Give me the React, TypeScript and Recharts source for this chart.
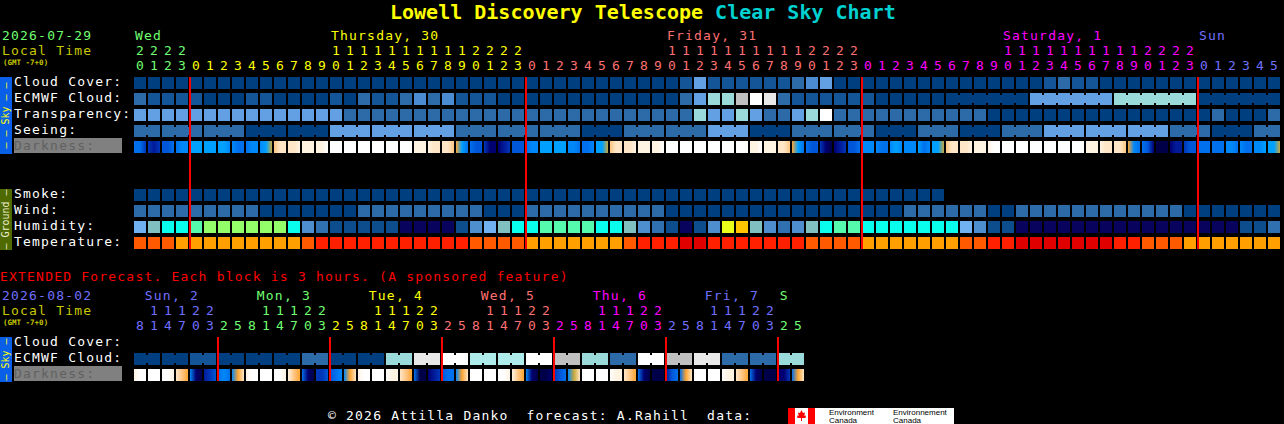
import React from 'react';
import { Scatter, ScatterChart, XAxis, YAxis } from 'recharts';

const MONO = '"DejaVu Sans Mono", monospace';
const TEXT_SIZE = 13;
const TEXT_SPACING = 1.2;

// hours shown above each column
const hours = [
  20, 21, 22, 23,
  0, 1, 2, 3, 4, 5, 6, 7, 8, 9, 10, 11, 12, 13, 14, 15, 16, 17, 18, 19, 20, 21, 22, 23,
  0, 1, 2, 3, 4, 5, 6, 7, 8, 9, 10, 11, 12, 13, 14, 15, 16, 17, 18, 19, 20, 21, 22, 23,
  0, 1, 2, 3, 4, 5, 6, 7, 8, 9, 10, 11, 12, 13, 14, 15, 16, 17, 18, 19, 20, 21, 22, 23,
  0, 1, 2, 3, 4, 5,
];
const extHours = [
  8, 11, 14, 17, 20, 23,
  2, 5, 8, 11, 14, 17, 20, 23,
  2, 5, 8, 11, 14, 17, 20, 23,
  2, 5, 8, 11, 14, 17, 20, 23,
  2, 5, 8, 11, 14, 17, 20, 23,
  2, 5, 8, 11, 14, 17, 20, 23,
  2, 5,
];

const dayNames = ['Wed', 'Thursday, 30', 'Friday, 31', 'Saturday, 1', 'Sun'];
const dayLabelCols = [0, 14, 38, 62, 76];
const dayStartCols = [0, 4, 28, 52, 76];
const dayColors = ['#70ff70', '#ffff00', '#ff7070', '#ff00ff', '#7070ff'];
const midnights = [4, 28, 52, 76];

const extDayNames = ['Sun, 2', 'Mon, 3', 'Tue, 4', 'Wed, 5', 'Thu, 6', 'Fri, 7', 'S'];
const extDayLabelCols = [0.7, 8.7, 16.7, 24.7, 32.7, 40.7, 46.05];
const extDayStartCols = [0, 6, 14, 22, 30, 38, 46];
const extDayColors = ['#7070ff', '#70ff70', '#ffff00', '#ff7070', '#ff00ff', '#7070ff', '#70ff70'];
const extMidnights = [6, 14, 22, 30, 38, 46];

// cloud style levels, tenths of sky
const cloudCover = [
  0, 0, 0, 0, 0, 0, 0, 0, 0, 0,
  0, 0, 0, 0, 0, 0, 0, 0, 0, 0,
  0, 0, 0, 0, 0, 0, 0, 0, 0, 0,
  0, 0, 0, 0, 0, 0, 0, 0, 0, 1,
  4, 1, 1, 1, 1, 1, 1, 2, 3, 4,
  0, 0, 0, 0, 0, 0, 0, 0, 0, 0,
  0, 0, 0, 0, 0, 1, 2, 1, 1, 0,
  0, 0, 0, 0, 0, 0, 0, 0, 0, 0, 0, 0,
];
const ecmwfCloud = [
  2, 1, 1, 1, 1, 0, 0, 0, 1, 1,
  0, 0, 0, 0, 1, 0, 2, 1, 1, 2,
  3, 2, 3, 1, 1, 1, 0, 0, 0, 0,
  0, 0, 0, 0, 0, 0, 0, 0, 0, 2,
  4, 6, 6, 8, 10, 9, 2, 1, 1, 1,
  1, 1, 1, 0, 0, 0, 0, 0, 0, 0,
  0, 0, 0, 0, 4, 4, 4, 4, 4, 4,
  6, 6, 6, 6, 6, 6, 0, 0, 0, 0, 0, 0,
];
const transparency = [
  4, 4, 4, 4, 4, 4, 4, 4, 4, 4,
  4, 4, 4, 4, 4, 2, 2, 2, 2, 2,
  2, 2, 2, 2, 2, 2, 2, 2, 2, 2,
  2, 2, 2, 2, 2, 2, 2, 2, 2, 2,
  6, 4, 4, 6, 4, 2, 2, 4, 6, 10,
  2, 2, 2, 2, 2, 2, 2, 2, 2, 2,
  2, 0, 0, 0, 0, 0, 0, 0, 0, 0,
  0, 0, 0, 0, 0, 0, 0, 2, 0, 0, 0, 2,
];
const seeing = [
  2, 2, 2, 2, 2, 2, 2, 2, 0, 0,
  0, 0, 0, 0, 4, 4, 4, 4, 4, 4,
  4, 4, 4, 2, 2, 2, 2, 2, 2, 2,
  2, 2, 0, 0, 0, 2, 2, 2, 2, 2,
  2, 4, 4, 4, 0, 0, 0, 2, 2, 2,
  2, 2, 2, 0, 0, 0, 2, 2, 2, 0,
  0, 0, 2, 2, 2, 4, 4, 4, 4, 4,
  4, 4, 4, 4, 2, 2, 2, 0, 0, 0, 2, 2,
];
const smoke = [
  0, 0, 0, 0, 0, 0, 0, 0, 0, 0,
  0, 0, 0, 0, 0, 0, 0, 0, 0, 0,
  0, 0, 0, 0, 0, 0, 0, 0, 0, 0,
  0, 0, 0, 0, 0, 0, 0, 0, 0, 0,
  0, 0, 0, 0, 0, 0, 0, 0, 0, 0,
  0, 0, 0, 0, 0, 0, 0, 0,
];
const wind = [
  2, 2, 2, 2, 2, 2, 2, 2, 2, 0,
  0, 0, 0, 0, 0, 0, 2, 2, 2, 2,
  2, 2, 2, 2, 2, 0, 0, 0, 2, 2,
  2, 2, 2, 2, 2, 2, 2, 2, 0, 0,
  0, 0, 0, 0, 0, 0, 0, 0, 0, 0,
  0, 0, 0, 0, 0, 2, 2, 2, 2, 2,
  2, 0, 0, 2, 2, 2, 2, 2, 2, 2,
  2, 2, 2, 2, 2, 0, 0, 0, 0, 0, 0, 0,
];
const humidity = [
  42, 47, 52, 52, 57, 62, 62, 62, 62, 62,
  62, 52, 37, 32, 27, 27, 27, 27, 27, 20,
  20, 20, 20, 27, 37, 42, 47, 52, 52, 57,
  57, 57, 57, 52, 52, 47, 37, 32, 27, 20,
  27, 37, 67, 72, 47, 37, 32, 37, 47, 52,
  57, 57, 52, 52, 52, 52, 52, 52, 52, 42,
  37, 27, 27, 20, 20, 20, 20, 20, 20, 20,
  20, 20, 20, 20, 20, 20, 20, 20, 20, 27, 27, 32,
];
const temperature = [
  17, 17, 17, 12, 12, 12, 12, 12, 12, 12,
  12, 12, 17, 22, 22, 22, 22, 22, 22, 22,
  22, 22, 22, 22, 17, 17, 17, 17, 12, 12,
  12, 12, 12, 12, 12, 17, 22, 22, 22, 28,
  28, 22, 22, 22, 22, 22, 22, 22, 17, 17,
  17, 17, 12, 12, 12, 12, 12, 12, 12, 17,
  17, 22, 22, 28, 28, 28, 28, 28, 28, 28,
  22, 22, 17, 17, 17, 12, 12, 12, 12, 12, 12, 12,
];
// darkness, three readings across each block (0 daylight .. 13 deep night)
const darkness = [
  [8, 8, 10], [10, 11, 10], [9, 9, 8], [8, 7, 7], [6, 6, 6], [6, 6, 6], [6, 6, 7], [7, 8, 8], [8, 7, 7], [7, 6, 5],
  [3, 2, 2], [2, 2, 1], [1, 1, 1], [1, 1, 0], [0, 0, 0], [0, 0, 0], [0, 0, 0], [0, 0, 0], [0, 0, 0], [0, 0, 0],
  [1, 1, 1], [1, 2, 2], [2, 2, 3], [4, 6, 8], [8, 9, 9], [10, 12, 12], [12, 11, 10], [9, 9, 9], [8, 7, 7], [6, 6, 6],
  [6, 6, 6], [7, 7, 8], [8, 8, 7], [6, 6, 5], [3, 2, 2], [2, 2, 1], [1, 1, 1], [1, 1, 0], [0, 0, 0], [0, 0, 0],
  [0, 0, 0], [0, 0, 0], [0, 0, 0], [0, 0, 0], [1, 1, 0], [1, 1, 1], [2, 2, 3], [4, 6, 8], [8, 9, 9], [10, 12, 13],
  [12, 11, 10], [9, 9, 8], [7, 7, 7], [7, 8, 8], [7, 6, 7], [7, 7, 7], [6, 8, 7], [6, 6, 5], [3, 2, 2], [2, 2, 1],
  [1, 1, 1], [1, 0, 0], [0, 0, 0], [0, 0, 0], [0, 0, 0], [0, 0, 0], [0, 0, 0], [0, 0, 0], [1, 1, 1], [1, 2, 2],
  [2, 2, 3], [4, 7, 8], [8, 9, 12], [13, 13, 13], [12, 11, 11], [10, 9, 9], [8, 8, 8], [8, 8, 8], [7, 7, 8], [7, 8, 8],
  [7, 7, 6], [6, 6, 5],
];

const extEcmwf = [
  0, 0, 0, 0, 1, 1, 0, 0, 0, 0,
  0, 0, 2, 2, 0, 0, 0, 0, 6, 6,
  9, 9, 10, 10, 7, 7, 7, 7, 10, 10,
  8, 8, 6, 6, 2, 2, 10, 10, 8, 8,
  9, 9, 2, 2, 2, 2, 6, 6,
];
const extDarkness = [
  [1, 0, 0], [0, 0, 0], [0, 0, 1], [2, 3, 4], [7, 12, 13], [11, 10, 9], [8, 7, 8], [7, 4, 2],
  [1, 0, 0], [0, 0, 0], [0, 0, 1], [1, 3, 4], [8, 12, 13], [10, 10, 9], [9, 8, 7], [7, 4, 2],
  [1, 0, 0], [0, 0, 0], [0, 1, 1], [2, 3, 4], [8, 13, 13], [12, 11, 10], [9, 8, 8], [7, 4, 2],
  [0, 0, 0], [0, 0, 0], [0, 0, 1], [1, 3, 4], [7, 12, 13], [13, 13, 12], [10, 9, 8], [7, 5, 2],
  [0, 0, 0], [0, 0, 0], [0, 1, 1], [2, 3, 4], [8, 12, 13], [13, 13, 13], [11, 9, 8], [8, 4, 2],
  [0, 0, 0], [0, 0, 0], [0, 1, 1], [2, 3, 4], [8, 12, 13], [13, 13, 13], [12, 12, 10], [8, 4, 2],
];

const rowLabels: Record<number, string> = {
  0: 'Cloud Cover:', 1: 'ECMWF Cloud:', 2: 'Transparency:', 3: 'Seeing:', 4: 'Darkness:',
  7: 'Smoke:', 8: 'Wind:', 9: 'Humidity:', 10: 'Temperature:',
};
const extRowLabels: Record<number, string> = { 0: 'Cloud Cover:', 1: 'ECMWF Cloud:', 2: 'Darkness:' };

const cloudColors = ['#003f7f', '#135596', '#2c6aa8', '#4a8bd1', '#63a0e3', '#7ebbef', '#9adada', '#aeecec', '#c0c0c0', '#e8e8e8', '#ffffff'];
const darkColors = ['#ffffff', '#fff3e2', '#ffe6c6', '#ffc684', '#ffa530', '#c8a83c', '#00a0ff', '#0088f8', '#0070ec', '#0056d8', '#0036b8', '#001a98', '#000070', '#000048'];

const humidityColor = (v: number) => {
  if (v < 25) return '#08035d';
  if (v < 30) return '#0d4d8d';
  if (v < 35) return '#3070b0';
  if (v < 40) return '#4e8ece';
  if (v < 45) return '#71b1f1';
  if (v < 50) return '#80c0c0';
  if (v < 55) return '#09feed';
  if (v < 60) return '#55faad';
  if (v < 65) return '#94fe6a';
  if (v < 70) return '#eaff1a';
  return '#ffc500';
};
const temperatureColor = (v: number) => {
  if (v < 15) return '#ffa000';
  if (v < 20) return '#ff5a00';
  if (v < 25) return '#ff2000';
  return '#e00000';
};
const cloudColor = (v: number) => cloudColors[v];

const CELL = 12;
const BLOCK_JOIN = 2;

// joined: block is drawn through to the next column (3 or 6 hour forecasts)
const rowPoints = (values: number[], row: number, blockFirst?: number, blockSpan?: number) =>
  values.map((value, col) => ({
    col,
    row,
    value,
    joined:
      blockSpan !== undefined &&
      col >= (blockFirst as number) &&
      col < values.length - 1 &&
      (col - (blockFirst as number)) % blockSpan !== blockSpan - 1,
  }));

const darkPoints = (values: number[][], row: number) =>
  values.map((stops, col) => ({ col, row, value: stops[1], stops }));

const cellShape = (colorOf: (v: number) => string) => (props: any) => {
  const { cx, cy, payload } = props;
  const fill = colorOf(payload.value);
  return (
    <g>
      <rect x={cx} y={cy} width={CELL} height={CELL} fill={fill} />
      {payload.joined && <rect x={cx + CELL} y={cy + 2} width={BLOCK_JOIN} height={CELL - 4} fill={fill} />}
    </g>
  );
};

const darkShape = (prefix: string) => (props: any) => {
  const { cx, cy, payload } = props;
  const id = `${prefix}-${payload.col}`;
  return (
    <g>
      <defs>
        <linearGradient id={id} x1="0" y1="0" x2="1" y2="0">
          {payload.stops.map((s: number, i: number) => (
            <stop key={i} offset={`${i * 50}%`} stopColor={darkColors[s]} />
          ))}
        </linearGradient>
      </defs>
      <rect x={cx} y={cy} width={CELL} height={CELL} fill={`url(#${id})`} />
    </g>
  );
};

const noMark = () => <g />;

const colorForCol = (col: number, starts: number[], colors: string[]) => {
  let idx = 0;
  starts.forEach((s, i) => {
    if (col >= s) idx = i;
  });
  return colors[idx];
};

const hourTick = (hrs: number[], starts: number[], colors: string[], baseline: number, tens: boolean) => (props: any) => {
  const col = props.payload.value;
  const h = hrs[col];
  return (
    <text x={props.x + 6} y={baseline} textAnchor="middle" fontFamily={MONO} fontSize={TEXT_SIZE} fill={colorForCol(col, starts, colors)}>
      {tens ? Math.floor(h / 10) : h % 10}
    </text>
  );
};

const dayTick = (cols: number[], names: string[], colors: string[], baseline: number) => (props: any) => {
  const i = cols.indexOf(props.payload.value);
  return (
    <text x={props.x + 1} y={baseline} fontFamily={MONO} fontSize={TEXT_SIZE} letterSpacing={TEXT_SPACING} fill={colors[i]}>
      {names[i]}
    </text>
  );
};

const rowTick = (labels: Record<number, string>, dimRow: number) => (props: any) => {
  const row = props.payload.value;
  const dim = row === dimRow;
  return (
    <g>
      {dim && <rect x={14} y={props.y - 3} width={108} height={15} fill="#808080" />}
      <text x={14} y={props.y + 9} fontFamily={MONO} fontSize={TEXT_SIZE} letterSpacing={TEXT_SPACING} fill={dim ? '#606060' : '#ffffff'}>
        {labels[row]}
      </text>
    </g>
  );
};

const colsOf = (hrs: number[]) => hrs.map((_, i) => i);
const tensCols = (hrs: number[]) => colsOf(hrs).filter((i) => hrs[i] >= 10);
const axisAnchors = (cols: number[]) => cols.map((col) => ({ col, row: 0 }));

const App = () => {
  const mainRows = [
    { data: rowPoints(cloudCover, 0), shape: cellShape(cloudColor) },
    { data: rowPoints(ecmwfCloud, 1, 58, 6), shape: cellShape(cloudColor) },
    { data: rowPoints(transparency, 2), shape: cellShape(cloudColor) },
    { data: rowPoints(seeing, 3, -1, 3), shape: cellShape(cloudColor) },
    { data: darkPoints(darkness, 4), shape: darkShape('dk') },
    { data: rowPoints(smoke, 7), shape: cellShape(cloudColor) },
    { data: rowPoints(wind, 8), shape: cellShape(cloudColor) },
    { data: rowPoints(humidity, 9), shape: cellShape(humidityColor) },
    { data: rowPoints(temperature, 10), shape: cellShape(temperatureColor) },
  ];
  const extRows = [
    { data: rowPoints(extEcmwf, 1, 0, 2), shape: cellShape(cloudColor) },
    { data: darkPoints(extDarkness, 2), shape: darkShape('xd') },
  ];
  const headerText = { fontSize: TEXT_SIZE, letterSpacing: TEXT_SPACING };

  return (
    <div style={{ position: 'absolute', left: 0, top: 0, width: 1284, height: 424, background: '#000', overflow: 'hidden' }}>
      <div style={{ position: 'absolute', left: 0, top: 0 }}>
        <ScatterChart width={1284} height={260} margin={{ top: 27, right: 2, bottom: 11, left: 0 }}>
          <XAxis xAxisId="days" orientation="top" type="number" dataKey="col" domain={[0, 82]} height={15} ticks={dayLabelCols} interval={0} axisLine={false} tickLine={false} tick={dayTick(dayLabelCols, dayNames, dayColors, 40)} />
          <XAxis xAxisId="tens" orientation="top" type="number" dataKey="col" domain={[0, 82]} height={15} ticks={tensCols(hours)} interval={0} axisLine={false} tickLine={false} tick={hourTick(hours, dayStartCols, dayColors, 55, true)} />
          <XAxis xAxisId="hours" orientation="top" type="number" dataKey="col" domain={[0, 82]} height={20} ticks={colsOf(hours)} interval={0} axisLine={false} tickLine={false} tick={hourTick(hours, dayStartCols, dayColors, 70, false)} />
          <YAxis yAxisId="rows" type="number" dataKey="row" domain={[0, 10.75]} reversed width={134} ticks={[0, 1, 2, 3, 4, 7, 8, 9, 10]} interval={0} axisLine={false} tickLine={false} tick={rowTick(rowLabels, 4)} />
          <Scatter xAxisId="days" yAxisId="rows" data={axisAnchors(dayLabelCols)} shape={noMark} isAnimationActive={false} />
          <Scatter xAxisId="tens" yAxisId="rows" data={axisAnchors(tensCols(hours))} shape={noMark} isAnimationActive={false} />
          {mainRows.map((r, i) => (
            <Scatter key={i} xAxisId="hours" yAxisId="rows" data={r.data} shape={r.shape} isAnimationActive={false} />
          ))}
          {midnights.map((m) => (
            <Scatter key={m} xAxisId="hours" yAxisId="rows" data={[{ col: m, row: 0 }, { col: m, row: 10.75 }]} shape={noMark} line={{ stroke: '#ff0000', strokeWidth: 2 }} isAnimationActive={false} />
          ))}
        </ScatterChart>
      </div>

      <div style={{ position: 'absolute', left: 0, top: 265 }}>
        <ScatterChart width={1284} height={130} margin={{ top: 22, right: 478, bottom: 14, left: 0 }}>
          <XAxis xAxisId="days" orientation="top" type="number" dataKey="col" domain={[0, 48]} height={15} ticks={extDayLabelCols} interval={0} axisLine={false} tickLine={false} tick={dayTick(extDayLabelCols, extDayNames, extDayColors, 35)} />
          <XAxis xAxisId="tens" orientation="top" type="number" dataKey="col" domain={[0, 48]} height={15} ticks={tensCols(extHours)} interval={0} axisLine={false} tickLine={false} tick={hourTick(extHours, extDayStartCols, extDayColors, 50, true)} />
          <XAxis xAxisId="hours" orientation="top" type="number" dataKey="col" domain={[0, 48]} height={20} ticks={colsOf(extHours)} interval={0} axisLine={false} tickLine={false} tick={hourTick(extHours, extDayStartCols, extDayColors, 65, false)} />
          <YAxis yAxisId="rows" type="number" dataKey="row" domain={[0, 2.75]} reversed width={134} ticks={[0, 1, 2]} interval={0} axisLine={false} tickLine={false} tick={rowTick(extRowLabels, 2)} />
          <Scatter xAxisId="days" yAxisId="rows" data={axisAnchors(extDayLabelCols)} shape={noMark} isAnimationActive={false} />
          <Scatter xAxisId="tens" yAxisId="rows" data={axisAnchors(tensCols(extHours))} shape={noMark} isAnimationActive={false} />
          {extRows.map((r, i) => (
            <Scatter key={i} xAxisId="hours" yAxisId="rows" data={r.data} shape={r.shape} isAnimationActive={false} />
          ))}
          {extMidnights.map((m) => (
            <Scatter key={m} xAxisId="hours" yAxisId="rows" data={[{ col: m, row: 0 }, { col: m, row: 2.75 }]} shape={noMark} line={{ stroke: '#ff0000', strokeWidth: 2 }} isAnimationActive={false} />
          ))}
        </ScatterChart>
      </div>

      {/* title, side bars and footer */}
      <svg width={1284} height={424} style={{ position: 'absolute', left: 0, top: 0, pointerEvents: 'none' }} fontFamily={MONO}>
        <text x={390} y={19} fontSize={20} fontWeight="bold" fill="#ffff00" xmlSpace="preserve">
          Lowell Discovery Telescope <tspan fill="#00d0d0">Clear Sky Chart</tspan>
        </text>

        <text x={2} y={40} {...headerText} fill="#70ff70">2026-07-29</text>
        <text x={2} y={55} {...headerText} fill="#c8c800">Local Time</text>
        <text x={3} y={65} fontSize={7.5} fontWeight="bold" fill="#c8c800">(GMT -7+0)</text>

        <rect x={0} y={77} width={12} height={77} fill="#0a5fe8" />
        <text transform="translate(9,115.5) rotate(-90)" textAnchor="middle" fontSize={10} fill="#ffff00">– – Sky – –</text>
        <rect x={0} y={189} width={12} height={61} fill="#4e6a00" />
        <text transform="translate(9,219.5) rotate(-90)" textAnchor="middle" fontSize={10} fill="#f0f0d0">– Ground –</text>

        <text x={0} y={281} {...headerText} fill="#ff0000">EXTENDED Forecast. Each block is 3 hours. (A sponsored feature)</text>
        <text x={2} y={300} {...headerText} fill="#7070ff">2026-08-02</text>
        <text x={2} y={315} {...headerText} fill="#c8c800">Local Time</text>
        <text x={3} y={325} fontSize={7.5} fontWeight="bold" fill="#c8c800">(GMT -7+0)</text>

        <rect x={0} y={337} width={12} height={45} fill="#0a5fe8" />
        <text transform="translate(9,359.5) rotate(-90)" textAnchor="middle" fontSize={10} fill="#ffff00">– Sky –</text>

        <text x={328} y={420} {...headerText} fill="#ffffff" xmlSpace="preserve">© 2026 Attilla Danko  forecast: A.Rahill  data:</text>

        <rect x={788} y={408} width={166} height={16} fill="#ffffff" />
        <rect x={788} y={408} width={7} height={16} fill="#ff0000" />
        <rect x={808} y={408} width={7} height={16} fill="#ff0000" />
        <polygon points="801.5,410 803,413 805,412.5 804.3,416 806,415.5 805.5,418 802,418 802,421 801,421 801,418 797.5,418 797,415.5 798.7,416 798,412.5 800,413" fill="#ff0000" />
        <g fontFamily="Liberation Sans" fontSize={8} fill="#000000">
          <text x={829} y={415}>Environment</text>
          <text x={829} y={423}>Canada</text>
          <text x={893} y={415}>Environnement</text>
          <text x={893} y={423}>Canada</text>
        </g>
      </svg>
    </div>
  );
};

export default App;
